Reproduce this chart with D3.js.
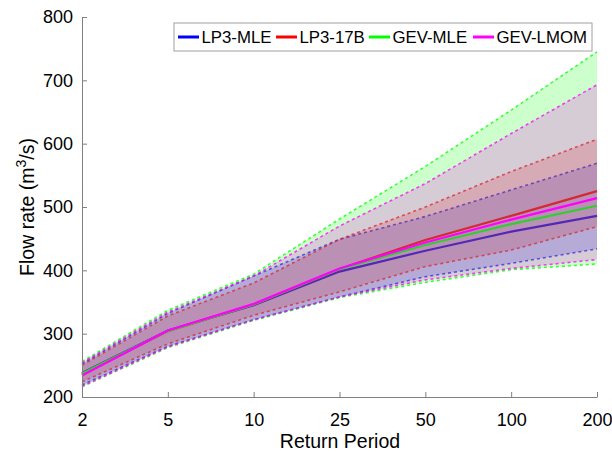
<!DOCTYPE html>
<html>
<head>
<meta charset="utf-8">
<script src="https://cdn.jsdelivr.net/npm/d3@7"></script>
<style>
  html, body { margin: 0; padding: 0; background: #fff; }
  svg { display: block; font-family: "Liberation Sans", Arial, Helvetica, sans-serif; }
</style>
</head>
<body>
<svg id="chart" width="612" height="453"></svg>
<script>
const periods = ["2", "5", "10", "25", "50", "100", "200"];
const yTicks = [200, 300, 400, 500, 600, 700, 800];
const seriesNames = ["LP3-MLE", "LP3-17B", "GEV-MLE", "GEV-LMOM"];
const seriesColors = ["#0000ff", "#ff0000", "#00ff00", "#ff00ff"];

const lp3MleCenter = [238, 305, 345, 398, 431, 461, 486];
const lp3MleUpper  = [252, 332, 391, 449, 485, 527, 569];
const lp3MleLower  = [219, 280, 322, 358, 390, 411, 434];

const lp317bCenter = [236, 304, 346, 402, 448, 486, 525];
const lp317bUpper  = [250, 328, 380, 449, 500, 556, 607];
const lp317bLower  = [224, 284, 329, 366, 406, 432, 469];

const gevMleCenter = [237, 304, 346, 402, 440, 473, 502];
const gevMleUpper  = [256, 337, 394, 481, 564, 653, 745];
const gevMleLower  = [216, 278, 321, 357, 381, 401, 410];

const gevLmomCenter = [234, 305, 347, 403, 444, 480, 514];
const gevLmomUpper  = [254, 334, 391, 470, 537, 616, 693];
const gevLmomLower  = [217, 279, 322, 358, 385, 403, 417];

const series = [
  { name: seriesNames[0], color: seriesColors[0], center: lp3MleCenter, upper: lp3MleUpper, lower: lp3MleLower },
  { name: seriesNames[1], color: seriesColors[1], center: lp317bCenter, upper: lp317bUpper, lower: lp317bLower },
  { name: seriesNames[2], color: seriesColors[2], center: gevMleCenter, upper: gevMleUpper, lower: gevMleLower },
  { name: seriesNames[3], color: seriesColors[3], center: gevLmomCenter, upper: gevLmomUpper, lower: gevLmomLower }
];

const svg = d3.select("#chart");
const x = d3.scalePoint().domain(periods).range([82, 597]);
const y = d3.scaleLinear().domain([200, 800]).range([397, 17]);

const axisColor = "#7f7f7f";

// bands and lines
series.forEach(s => {
  const pts = periods.map((p, i) => ({ p, c: s.center[i], u: s.upper[i], l: s.lower[i] }));
  const area = d3.area().x(d => x(d.p)).y0(d => y(d.l)).y1(d => y(d.u));
  svg.append("path").datum(pts).attr("d", area)
    .attr("fill", s.color).attr("fill-opacity", 0.2).attr("stroke", "none");
  ["u", "l"].forEach(k => {
    svg.append("path").datum(pts)
      .attr("d", d3.line().x(d => x(d.p)).y(d => y(d[k])))
      .attr("fill", "none").attr("stroke", s.color).attr("stroke-width", 1.6)
      .attr("stroke-dasharray", "3,3").attr("stroke-opacity", 0.75);
  });
  svg.append("path").datum(pts)
    .attr("d", d3.line().x(d => x(d.p)).y(d => y(d.c)))
    .attr("fill", "none").attr("stroke", s.color).attr("stroke-width", 2.2);
});

// axes
const xAxis = d3.axisBottom(x).tickSizeInner(-5).tickSizeOuter(0).tickPadding(16);
const gx = svg.append("g").attr("transform", `translate(0,${y(200)})`).call(xAxis);
const yAxis = d3.axisLeft(y).tickValues(yTicks).tickSizeInner(-5).tickSizeOuter(0).tickPadding(9);
const gy = svg.append("g").attr("transform", `translate(${x("2")},0)`).call(yAxis);
[gx, gy].forEach(g => {
  g.select(".domain").attr("stroke", axisColor).attr("stroke-width", 1);
  g.selectAll(".tick line").attr("stroke", axisColor);
  g.selectAll(".tick text").attr("fill", "#000").style("font-size", "18px")
    .style("font-family", "'Liberation Sans', Arial, sans-serif");
});

// axis titles
svg.append("text").attr("x", 340).attr("y", 448).attr("text-anchor", "middle")
  .style("font-size", "19.5px").attr("fill", "#000").text("Return Period");
const yl = svg.append("text").attr("transform", "translate(34,207) rotate(-90)")
  .attr("text-anchor", "middle").style("font-size", "19.5px").attr("fill", "#000");
yl.append("tspan").text("Flow rate (m");
yl.append("tspan").attr("dy", -8).style("font-size", "14px").text("3");
yl.append("tspan").attr("dy", 8).text("/s)");

// legend
const lg = svg.append("g");
lg.append("rect").attr("x", 174).attr("y", 23).attr("width", 418).attr("height", 28)
  .attr("fill", "#fff").attr("stroke", "#a0a0a0").attr("stroke-width", 1);
const legX = [178, 276, 369, 473];
series.forEach((s, i) => {
  lg.append("line").attr("x1", legX[i]).attr("x2", legX[i] + 21).attr("y1", 37).attr("y2", 37)
    .attr("stroke", s.color).attr("stroke-width", 3);
  lg.append("text").attr("x", legX[i] + 23.5).attr("y", 43).style("font-size", "16.8px")
    .attr("fill", "#000").text(s.name);
});
</script>
</body>
</html>
